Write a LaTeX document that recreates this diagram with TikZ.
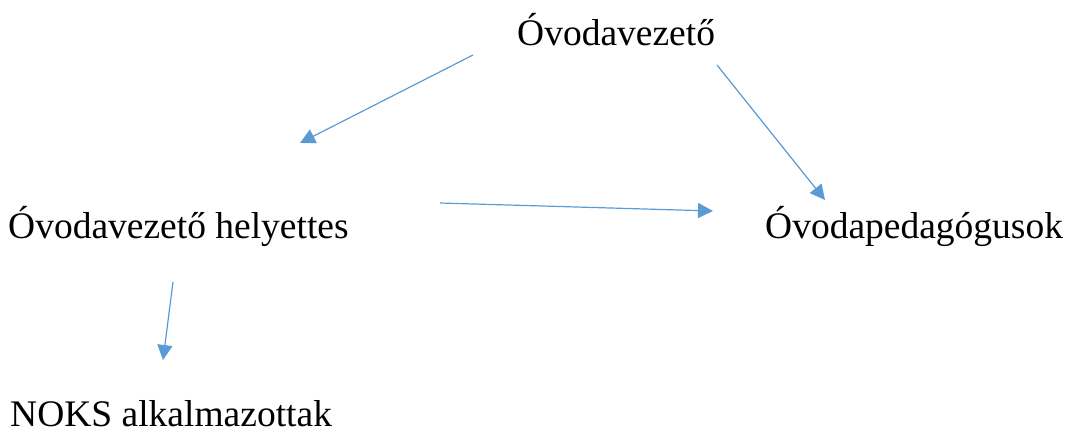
\documentclass[tikz,border=0pt]{standalone}
\usepackage{fontspec}
\setmainfont{Liberation Serif}
\usetikzlibrary{arrows.meta}
\definecolor{arrowblue}{HTML}{5B9BD5}
\begin{document}
\begin{tikzpicture}[x=1pt,y=1pt,
  lbl/.style={inner sep=0pt, anchor=base west, font=\fontsize{37.5}{44}\selectfont},
  arr/.style={draw=arrowblue, line width=1.2pt, -{Triangle[length=15pt,width=15pt]}, arrowblue}]
\useasboundingbox (0,0) rectangle (1066,-432);
\node[lbl] (vez) at (517,-45){Óvodavezető};
\node[lbl] (helyt) at (8,-238){Óvodavezető helyettes};
\node[lbl] (ped) at (765,-238){Óvodapedagógusok};
\node[lbl] (noks) at (10,-426){NOKS alkalmazottak};
\coordinate (vez1) at (473,-55);
\coordinate (vez2) at (717,-65);
\coordinate (helyt0) at (300,-143);
\coordinate (helyt1) at (440,-203);
\coordinate (helyt2) at (173,-282);
\coordinate (ped0) at (825,-200);
\coordinate (ped1) at (713,-211);
\coordinate (noks0) at (163,-360);
\draw[arr](vez1) -- (helyt0);
\draw[arr](vez2) -- (ped0);
\draw[arr](helyt1) -- (ped1);
\draw[arr](helyt2) -- (noks0);

\end{tikzpicture}
\end{document}
